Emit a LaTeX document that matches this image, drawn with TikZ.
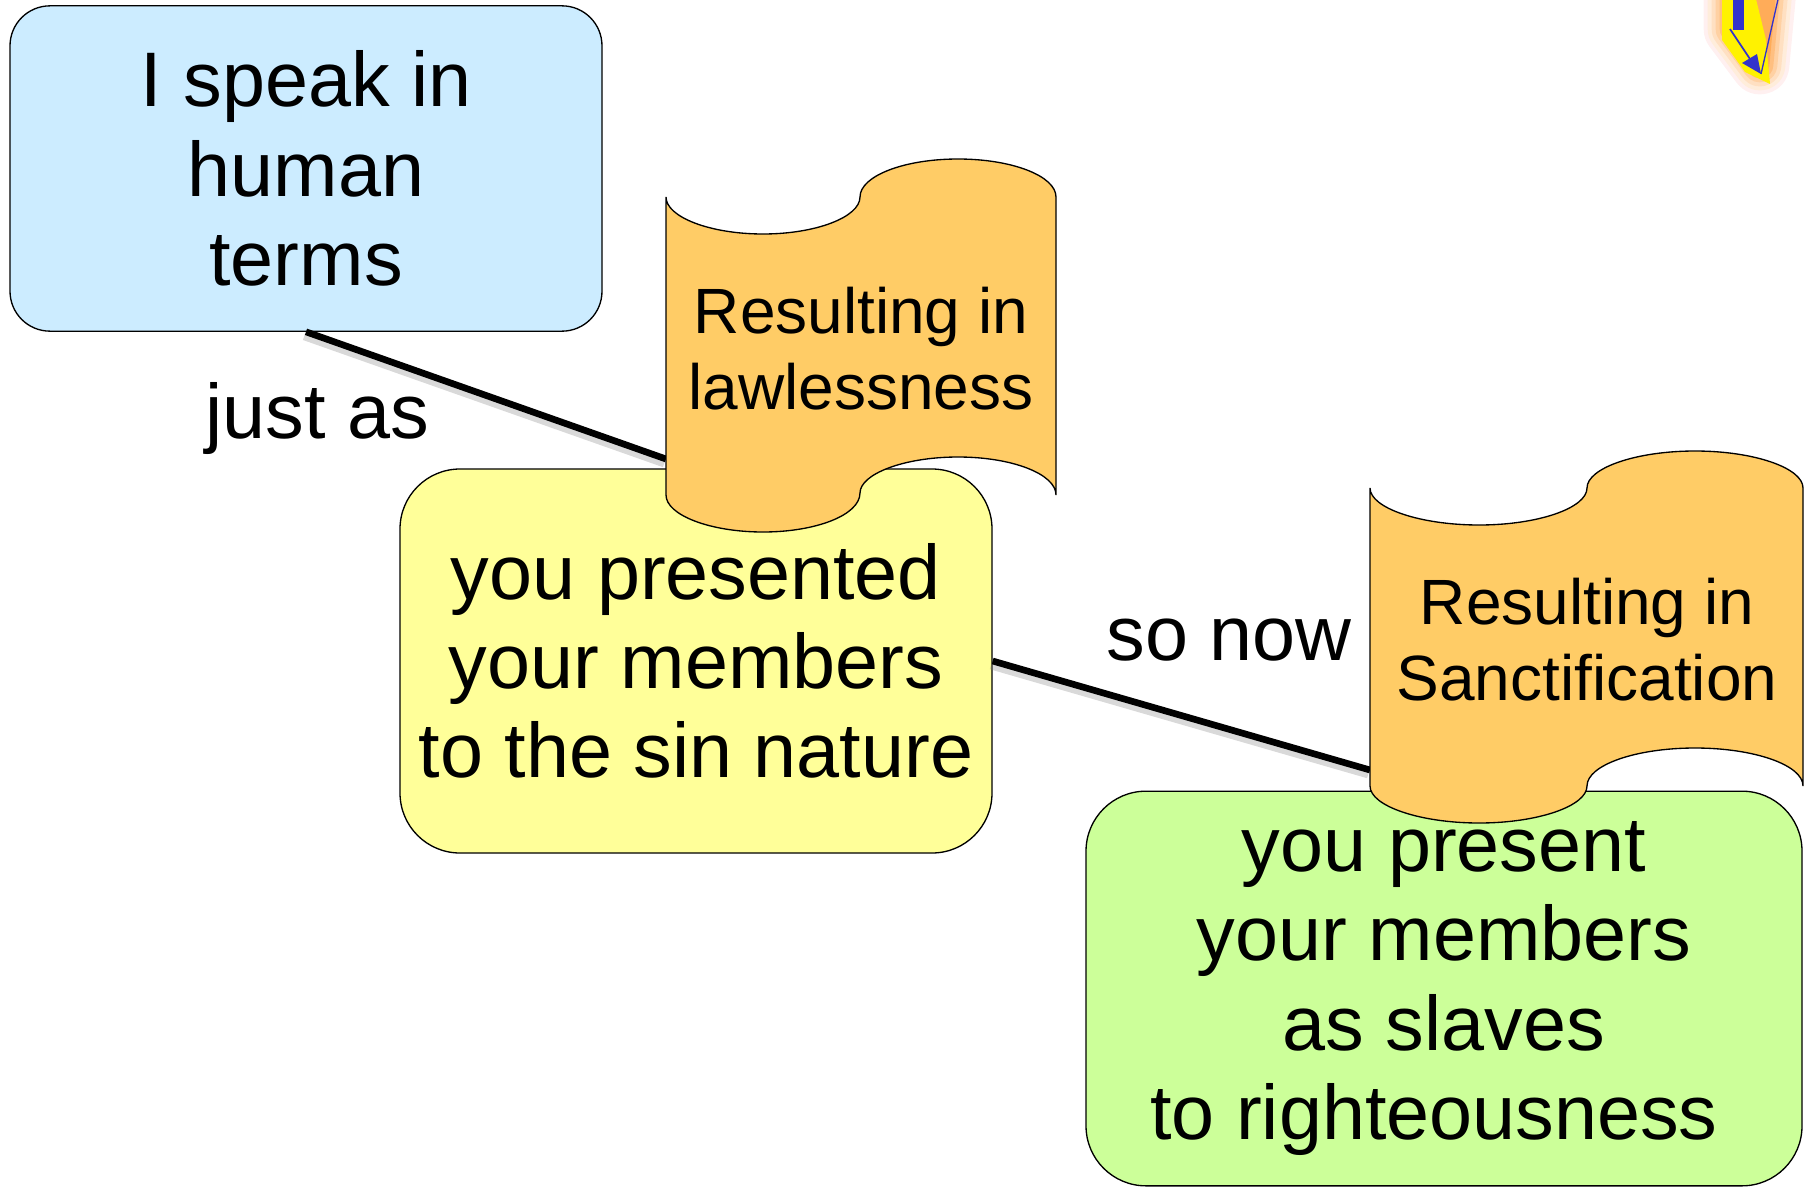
\documentclass[tikz,border=0pt]{standalone}
\usepackage{fontspec}
\setmainfont{Liberation Sans}
\usepackage{xcolor}
\usetikzlibrary{positioning}
\definecolor{speakblue}{HTML}{CCECFF}
\definecolor{sinyellow}{HTML}{FFFF99}
\definecolor{slavegreen}{HTML}{CCFF99}
\definecolor{waveorange}{HTML}{FFCC66}
\definecolor{iconblue}{HTML}{3333CC}
\begin{document}
\begin{tikzpicture}[
      x=0.75pt, y=-0.75pt,
      box/.style={rectangle, draw, line width=1pt, fill=#1, align=center, inner sep=0pt, font=\fontsize{58}{67}\selectfont},
      wave/.style={draw, line width=1pt, fill=waveorange},
      wavetext/.style={align=center, inner sep=0pt, font=\fontsize{48}{57}\selectfont},
      label/.style={inner sep=0pt, font=\fontsize{58}{67}\selectfont},
      link/.style={line width=5pt},
      linkshade/.style={line width=5pt, gray, opacity=0.3}
    ]
      \useasboundingbox (0,0) rectangle (1808,1188);
      \clip (0,0) rectangle (1808,1188);
      % Boxes
      \node[box=speakblue, minimum width=444pt, minimum height=244pt, rounded corners=30pt] (speak) at (306,168.5) {I speak in\\human\\terms};
      \node[box=sinyellow, minimum width=444pt, minimum height=288pt, rounded corners=45pt] (presented) at (696,661) {you presented\\your members\hspace*{20pt}\\to the sin nature};
      \node[box=slavegreen, minimum width=537pt, minimum height=296pt, rounded corners=45pt] (present) at (1444,988.5) {you present\\your members\\as slaves\\to righteousness\hspace*{15pt}};
      % Wave ends of the lines
      \coordinate (lawlessin) at (666,459);
      \coordinate (sanctin) at (1370,770);
      % Lines
      \draw[linkshade] ([shift={(-2,5)}]speak.south) -- ([shift={(-2,5)}]lawlessin);
      \draw[linkshade] ([shift={(-2,5)}]presented.east) -- ([shift={(-2,5)}]sanctin);
      \draw[link] (speak.south) -- (lawlessin);
      \draw[link] (presented.east) -- (sanctin);
      % Waves
      \draw[wave] (666,197) .. controls (666,217) and (710,234) .. (763,234)
        .. controls (816,234) and (860,217) .. (860,197)
        .. controls (860,176) and (904,159) .. (958,159)
        .. controls (1012,159) and (1056,176) .. (1056,197)
        -- (1056,495) .. controls (1056,474) and (1012,457) .. (958,457)
        .. controls (904,457) and (860,474) .. (860,493)
        .. controls (860,515) and (816,532) .. (763,532)
        .. controls (710,532) and (666,515) .. (666,495) -- cycle;
      \draw[wave] (1370,488) .. controls (1370,508) and (1420,525) .. (1479,525)
        .. controls (1538,525) and (1587,508) .. (1587,488)
        .. controls (1587,468) and (1636,451) .. (1695,451)
        .. controls (1754,451) and (1803,468) .. (1803,488)
        -- (1803,786) .. controls (1803,765) and (1754,748) .. (1695,748)
        .. controls (1636,748) and (1587,765) .. (1587,786)
        .. controls (1587,806) and (1538,823) .. (1479,823)
        .. controls (1420,823) and (1370,806) .. (1370,786) -- cycle;
      \node[wavetext] (lawless) at (861,349) {Resulting in\\lawlessness};
      \node[wavetext] (sanct) at (1587,640) {Resulting in\\Sanctification};
      % Labels
      \node[label] (justas) at (317,418) {just as};
      \node[label] (sonow) at (1229,640) {so now};
      % Icon
      \foreach \wd/\shade in {44/red!6, 38/orange!14, 32/orange!24, 26/orange!36, 20/orange!50, 14/orange!65}
        \draw[line width=\wd pt, \shade, fill=\shade, line join=round] (1733,-20) -- (1733,29) -- (1760,65) -- (1768,-20) -- cycle;
      \fill[yellow] (1722,-5) -- (1722,40) -- (1745,72) -- (1770,84) -- (1766,40) -- (1755,-5) -- cycle;
      \fill[iconblue] (1733,-5) rectangle (1744,30);
      \draw[iconblue, line width=1.3pt] (1730,29) -- (1752,62);
      \fill[iconblue] (1761,74) -- (1742,63) -- (1757,54) -- cycle;
      \draw[iconblue, line width=1pt] (1779,-5) -- (1761,74);
    \end{tikzpicture}
\end{document}
